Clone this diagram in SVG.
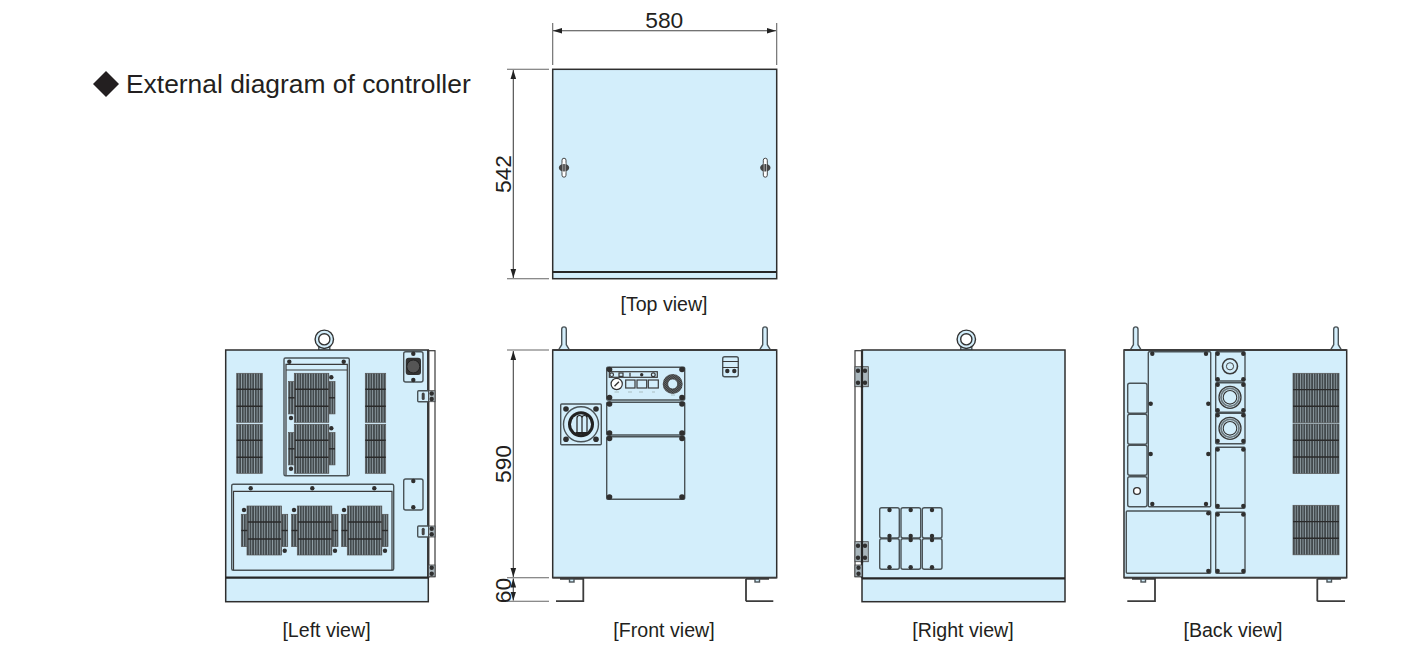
<svg xmlns="http://www.w3.org/2000/svg" width="1412" height="669" viewBox="0 0 1412 669">
<style>
text{font-family:"Liberation Sans",Arial,sans-serif;fill:#231f20}
.t{font-size:26.4px}.l{font-size:19.6px;text-anchor:middle}.d{font-size:22.8px;text-anchor:middle}
.b{fill:#d3eefb;stroke:#2e2e2e;stroke-width:1.5}
.k{fill:#d3eefb;stroke:#4a5357;stroke-width:1.4}
.h{fill:none;stroke:#262626;stroke-width:2.2}
.n{fill:none;stroke:#3a3a3a;stroke-width:1.2}
.e{fill:none;stroke:#666;stroke-width:1.1}
.a{fill:none;stroke:#444;stroke-width:1.1;marker-start:url(#ar);marker-end:url(#ar)}
.g{fill:url(#st);stroke:#555;stroke-width:.7}
.gb{fill:none;stroke:#2a2a2a;stroke-width:1.4}
.s{fill:#2f2f2f}
.f{fill:none;stroke:#3c3c3c;stroke-width:1.8}
</style>
<defs>
<marker id="ar" markerWidth="10" markerHeight="7" refX="9" refY="3.5" orient="auto-start-reverse" markerUnits="userSpaceOnUse"><path d="M0 0.7L9 3.5L0 6.3Z" fill="#222"/></marker>
<pattern id="st" width="2.6" height="4" patternUnits="userSpaceOnUse"><rect width="2.6" height="4" fill="#434a4d"/><rect x="1.9" width=".7" height="4" fill="#a5b5bd"/></pattern>
<pattern id="hx" width="1.6" height="1.6" patternUnits="userSpaceOnUse" patternTransform="rotate(40)"><rect width="1.6" height="1.6" fill="#3a3a3a"/><rect width="1.6" height=".4" fill="#8a9599"/></pattern>
<circle id="sc" r="2.2" class="s"/>
<circle id="sb" r="2.8" class="s"/>
<g id="eye"><rect x="-5.5" y="5" width="11" height="6" class="k"/><circle r="9.2" fill="#d3eefb" stroke="#333" stroke-width="1.4"/><circle r="5.6" fill="#fff" stroke="#333" stroke-width="1.4"/></g>
<g id="bolt"><path d="M-5.5 23.3L-2.3 18V2.5A2.3 2.3 0 0 1 2.3 2.5V18L5.5 23.3Z" class="k"/></g>
<g id="hinge"><rect x="0" y="0" width="13.3" height="20" fill="#a9b6bc" stroke="#444" stroke-width=".8"/><use href="#sc" x="3" y="4"/><use href="#sc" x="10" y="4"/><use href="#sc" x="3" y="16"/><use href="#sc" x="10" y="16"/></g>
<g id="handle"><rect x="-2" y="-9.5" width="4" height="19" rx="2" fill="#fff" stroke="#333" stroke-width=".9"/><ellipse rx="5.2" ry="3.8" fill="#444"/><path d="M-1.2 -5V5M1.2 -5V5" stroke="#eee" stroke-width=".6"/></g>
<g id="g34"><rect width="34.5" height="49" class="g"/><path d="M0 16H34.5M0 33H34.5" class="gb"/></g>
<g id="gs"><rect width="6" height="32.3" class="g"/><path d="M0 16.2H6" class="gb"/></g>
<g id="gl"><rect width="25.6" height="49" class="g"/><path d="M0 16H25.6M0 33H25.6" class="gb"/></g>
<g id="gr"><rect width="20.4" height="49" class="g"/><path d="M0 16H20.4M0 33H20.4" class="gb"/></g>
<g id="gb"><rect width="46" height="49.5" class="g"/><path d="M0 16.3H46M0 33H46" class="gb"/></g>
<g id="gset"><use href="#g34" x="5.7" y="0"/><use href="#gs" x="0" y="8.3"/><use href="#gs" x="40.4" y="8.3"/></g>
<g id="gland"><circle r="11" fill="#d3eefb" stroke="#3a3a3a" stroke-width="1.3"/><circle r="9" fill="none" stroke="#6f7a7f" stroke-width="1.8"/><circle r="6.8" fill="#d3eefb" stroke="#333" stroke-width="1.1"/></g>
</defs>

<g id="title"><path d="M106 71L119 84L106 97L93 84Z" fill="#231f20"/><text class="t" x="126" y="93">External diagram of controller</text></g>

<g id="top-view">
<rect class="b" x="552.7" y="69.3" width="224" height="209.4"/>
<path d="M552.7 272H776.7" class="h"/>
<use href="#handle" x="564" y="167.7"/><use href="#handle" x="765.3" y="167.7"/>
<text class="l" x="664" y="311">[Top view]</text>
</g>

<g id="left-view">
<use href="#eye" x="324.3" y="339.3"/>
<rect class="b" x="225.7" y="350" width="202.6" height="251.7"/>
<path d="M225.7 577.7H428.3" class="h"/><path d="M428.3 350V577.7" class="h"/>
<rect class="n" x="428.3" y="350.7" width="6.7" height="226"/>
<use href="#gl" x="236.7" y="373.3"/><use href="#gl" x="236.7" y="424.3"/>
<use href="#gr" x="365.3" y="373.3"/><use href="#gr" x="365.3" y="424.3"/>
<rect class="k" x="284" y="358" width="65.3" height="117.7" rx="1.5"/>
<path class="n" d="M286 475V364.3H347.3V475M286 370H347.3"/>
<use href="#sc" x="289.3" y="361.7"/><use href="#sc" x="343.7" y="361.7"/>
<use href="#gset" x="288.6" y="373.3"/><use href="#gset" x="288.6" y="424.3"/>
<use href="#sc" x="331.3" y="377.3"/><use href="#sc" x="291" y="418"/><use href="#sc" x="331.3" y="428.3"/><use href="#sc" x="291" y="468.7"/>
<rect class="k" x="231.7" y="484.3" width="162" height="86" rx="1.5"/>
<path class="n" d="M233.5 570V491.3H392V570"/>
<use href="#sc" x="250.7" y="488.3"/><use href="#sc" x="312.3" y="488.3"/><use href="#sc" x="374.3" y="488.3"/>
<use href="#gset" x="241.3" y="506"/><use href="#gset" x="291.6" y="506"/><use href="#gset" x="341.6" y="506"/>
<use href="#sc" x="244" y="510"/><use href="#sc" x="284.7" y="550.7"/><use href="#sc" x="294" y="510"/><use href="#sc" x="335" y="550.7"/><use href="#sc" x="344" y="510"/><use href="#sc" x="385" y="550.7"/>
<rect class="k" x="403.7" y="351.7" width="19.3" height="30.3" rx="2"/>
<rect x="405.7" y="357.7" width="15.3" height="17.3" rx="3" fill="#333"/><circle cx="413.3" cy="366.5" r="6.5" fill="#555" stroke="#222"/>
<use href="#sc" x="413.3" y="353.7"/><use href="#sc" x="413.3" y="380"/>
<rect class="k" x="403.7" y="479" width="19.3" height="31" rx="2"/>
<use href="#sc" x="413.3" y="481"/><use href="#sc" x="413.3" y="507.3"/>
<rect class="k" x="417.7" y="390.7" width="11" height="11" rx="1"/><rect x="421.7" y="392.5" width="3" height="7.5" rx="1.5" fill="#444"/>
<rect fill="#a9b6bc" stroke="#444" stroke-width=".8" x="428.5" y="390.7" width="6.5" height="11"/><use href="#sc" x="431.7" y="393.5"/><use href="#sc" x="431.7" y="399"/>
<rect class="k" x="417.7" y="526" width="11" height="11" rx="1"/><rect x="421.7" y="527.8" width="3" height="7.5" rx="1.5" fill="#444"/>
<rect fill="#a9b6bc" stroke="#444" stroke-width=".8" x="428.5" y="526" width="6.5" height="11"/><use href="#sc" x="431.7" y="528.8"/><use href="#sc" x="431.7" y="534.3"/>
<rect fill="#a9b6bc" stroke="#444" stroke-width=".8" x="428.5" y="565" width="6.5" height="11.7"/><use href="#sc" x="431.7" y="567.8"/><use href="#sc" x="431.7" y="573.8"/>
<text class="l" x="326.5" y="637">[Left view]</text>
</g>

<g id="front-view">
<use href="#bolt" x="564" y="326.7"/><use href="#bolt" x="765" y="326.7"/>
<path class="f" d="M560 578.8H583.3V601.2H556M746 601.2H773.3M746 578.8V601.2M746 578.8H769"/>
<rect class="k" x="569.5" y="579" width="4.5" height="3"/><rect class="k" x="755" y="579" width="4.5" height="3"/>
<rect class="b" x="552.7" y="350" width="224" height="227.7"/>
<path class="f" d="M552.7 350H776.7M552.7 577.7H776.7" stroke-width="1.8"/>
<rect class="k" x="606.7" y="367.3" width="78" height="32.7" rx="1"/>
<rect class="n" x="609.3" y="371.7" width="48" height="5.6"/>
<circle cx="611.7" cy="374.7" r="1.8" class="n"/><rect x="619" y="373" width="4" height="3.4" class="n"/><rect x="629.4" y="372.7" width="1.2" height="4" fill="#333"/><circle cx="641.7" cy="374.7" r="1.7" class="s"/><circle cx="653.3" cy="374.7" r="1.9" class="n"/>
<circle cx="616.7" cy="384" r="5.6" fill="#fff" stroke="#333" stroke-width="1.2"/><path d="M614.5 386.2L618.9 381.8" stroke="#333" stroke-width="1.4"/>
<rect class="n" x="625.7" y="380" width="9.3" height="8"/><rect class="n" x="637" y="380" width="9.7" height="8"/><rect class="n" x="648.3" y="380" width="10" height="8"/>
<path d="M614.5 392H619M628 392H632M639 392H643M652 392H655M671 395H675" stroke="#9aa" stroke-width=".7"/>
<circle cx="672.7" cy="384" r="10" fill="url(#hx)"/><circle cx="672.7" cy="384" r="5" fill="#d3eefb" stroke="#333" stroke-width=".7"/>
<rect class="k" x="606.7" y="402.3" width="78" height="32.7" rx="1"/>
<rect class="k" x="606.7" y="436.7" width="78" height="62.6" rx="1"/>
<use href="#sb" x="609.5" y="369.5"/><use href="#sb" x="682" y="369.5"/><use href="#sb" x="609.5" y="397.5"/><use href="#sb" x="682" y="397.5"/>
<use href="#sb" x="609.5" y="404"/><use href="#sb" x="682" y="404"/><use href="#sb" x="609.5" y="433"/><use href="#sb" x="682" y="433"/>
<use href="#sb" x="609.5" y="438.5"/><use href="#sb" x="682" y="438.5"/><use href="#sb" x="609.5" y="497"/><use href="#sb" x="682" y="497"/>
<rect class="k" x="560.7" y="404" width="40.6" height="40.7" rx="1"/>
<circle cx="581" cy="424.3" r="17.5" class="k"/><circle cx="581" cy="424.3" r="13" fill="#222"/><circle cx="581" cy="424.3" r="10" fill="#d3eefb"/>
<path d="M577 433V418A2.5 2.5 0 0 1 582 418V433ZM582 433V418A2.5 2.5 0 0 1 587 418V433Z" fill="#d3eefb" stroke="#222" stroke-width="1.2"/><rect x="576" y="432" width="11" height="2.5" fill="#222"/>
<use href="#sb" x="566" y="409"/><use href="#sb" x="596" y="409"/><use href="#sb" x="566" y="439.3"/><use href="#sb" x="596" y="439.3"/>
<rect class="k" x="722.7" y="356.7" width="15.6" height="20" rx="2"/><path class="n" d="M722.7 361.5H738.3M722.7 367.5H738.3"/>
<use href="#sc" x="727.3" y="371"/><use href="#sc" x="734.3" y="371"/>
<text class="l" x="664" y="637">[Front view]</text>
</g>

<g id="right-view">
<use href="#eye" x="966.3" y="339.3"/>
<rect class="b" x="862" y="350" width="203" height="251.7"/>
<path d="M862 578.3H1065" class="h"/><path d="M862 350V578.3" class="h"/>
<rect class="n" x="855" y="350.7" width="7" height="226"/>
<use href="#hinge" x="855" y="366.7"/><use href="#hinge" x="855" y="541.7"/>
<path d="M862 366V388M862 541V563" class="h"/>
<rect fill="#a9b6bc" stroke="#444" stroke-width=".8" x="855" y="565" width="7" height="11.7"/><use href="#sc" x="858.5" y="567.8"/><use href="#sc" x="858.5" y="573.8"/>
<rect class="k" x="879.7" y="507.7" width="19.6" height="30.3" rx="2"/><rect class="k" x="901" y="507.7" width="19.7" height="30.3" rx="2"/><rect class="k" x="922.3" y="507.7" width="19.7" height="30.3" rx="2"/>
<rect class="k" x="879.7" y="538.7" width="19.6" height="30.6" rx="2"/><rect class="k" x="901" y="538.7" width="19.7" height="30.6" rx="2"/><rect class="k" x="922.3" y="538.7" width="19.7" height="30.6" rx="2"/>
<use href="#sc" x="889.5" y="510"/><use href="#sc" x="889.5" y="536"/><use href="#sc" x="889.5" y="540"/><use href="#sc" x="889.5" y="567.3"/>
<use href="#sc" x="910.7" y="510"/><use href="#sc" x="910.7" y="536"/><use href="#sc" x="910.7" y="540"/><use href="#sc" x="910.7" y="567.3"/>
<use href="#sc" x="932" y="510"/><use href="#sc" x="932" y="536"/><use href="#sc" x="932" y="540"/><use href="#sc" x="932" y="567.3"/>
<text class="l" x="963" y="637">[Right view]</text>
</g>

<g id="back-view">
<use href="#bolt" x="1135.7" y="326.7"/><use href="#bolt" x="1336" y="326.7"/>
<path class="f" d="M1132 578.8H1155V601.2H1127.3M1317.3 601.2H1345M1317.3 578.8V601.2M1317.3 578.8H1341"/>
<rect class="k" x="1141" y="579" width="4.5" height="3"/><rect class="k" x="1327" y="579" width="4.5" height="3"/>
<rect class="b" x="1124" y="350" width="222.7" height="227.7"/>
<path class="f" d="M1124 350H1346.7M1124 577.7H1346.7" stroke-width="1.8"/>
<rect class="k" x="1148.3" y="351.7" width="62.4" height="155" rx="1"/>
<use href="#sc" x="1152.3" y="353.7"/><use href="#sc" x="1206" y="353.7"/><use href="#sc" x="1150.7" y="403.7"/><use href="#sc" x="1208.3" y="403.7"/><use href="#sc" x="1150.7" y="454"/><use href="#sc" x="1208.3" y="454"/><use href="#sc" x="1152.3" y="504"/><use href="#sc" x="1206" y="504"/>
<rect class="k" x="1127.7" y="383.3" width="19.3" height="30" rx="2"/><rect class="k" x="1127.7" y="414.3" width="19.3" height="30" rx="2"/><rect class="k" x="1127.7" y="445.3" width="19.3" height="30" rx="2"/><rect class="k" x="1127.7" y="476.7" width="19.3" height="30" rx="2"/>
<circle cx="1137" cy="491" r="3.4" fill="#fff" stroke="#333" stroke-width="1.4"/>
<rect class="k" x="1126.3" y="511" width="84.4" height="62.3" rx="1"/>
<use href="#sc" x="1208.3" y="513.3"/><use href="#sc" x="1208.3" y="571"/>
<rect class="k" x="1215.7" y="351.7" width="29.3" height="29.3" rx="1"/><rect class="k" x="1215.7" y="382.7" width="29.3" height="29.6" rx="1"/><rect class="k" x="1215.7" y="413.3" width="29.3" height="30.4" rx="1"/><rect class="k" x="1215.7" y="447.3" width="29.3" height="61" rx="1"/><rect class="k" x="1215.7" y="512.3" width="29.3" height="61" rx="1"/>
<use href="#sc" x="1217.7" y="353.7"/><use href="#sc" x="1243.3" y="353.7"/><use href="#sc" x="1217.7" y="379.3"/><use href="#sc" x="1243.3" y="379.3"/>
<use href="#sc" x="1217.7" y="384.7"/><use href="#sc" x="1243.3" y="384.7"/><use href="#sc" x="1217.7" y="410.3"/><use href="#sc" x="1243.3" y="410.3"/>
<use href="#sc" x="1217.7" y="415.3"/><use href="#sc" x="1243.3" y="415.3"/><use href="#sc" x="1217.7" y="441"/><use href="#sc" x="1243.3" y="441"/>
<use href="#sc" x="1217.7" y="449.5"/><use href="#sc" x="1243.3" y="449.5"/><use href="#sc" x="1217.7" y="506"/><use href="#sc" x="1243.3" y="506"/>
<use href="#sc" x="1217.7" y="514.5"/><use href="#sc" x="1243.3" y="514.5"/><use href="#sc" x="1217.7" y="571"/><use href="#sc" x="1243.3" y="571"/>
<circle cx="1230" cy="366.3" r="7.5" fill="#d3eefb" stroke="#3a3a3a" stroke-width="1.6"/><circle cx="1230" cy="366.3" r="3.6" fill="#d3eefb" stroke="#444" stroke-width="1"/>
<use href="#gland" x="1230" y="397.3"/><use href="#gland" x="1230" y="428.3"/>
<use href="#gb" x="1293" y="373.3"/><use href="#gb" x="1293" y="424"/><use href="#gb" x="1293" y="505.3"/>
<text class="l" x="1233" y="637">[Back view]</text>
</g>

<g id="connectors">
<path class="e" d="M552.7 23V65M776.7 23V65M507 69.3H549M507 278.7H549M507 350H549M507 577.7H549M507 601.2H549"/>
<path class="a" d="M553 30.7H776"/>
<path class="a" d="M513.3 70V278"/>
<path class="a" d="M513.3 351V577"/>
<path class="a" d="M513.3 578.5V600.5"/>
</g>
<g id="dimension-labels">
<text class="d" x="664.3" y="27.5">580</text>
<text class="d" transform="translate(511 174) rotate(-90)">542</text>
<text class="d" transform="translate(511 464) rotate(-90)">590</text>
<text class="d" transform="translate(511 590.5) rotate(-90)">60</text>
</g>
</svg>
